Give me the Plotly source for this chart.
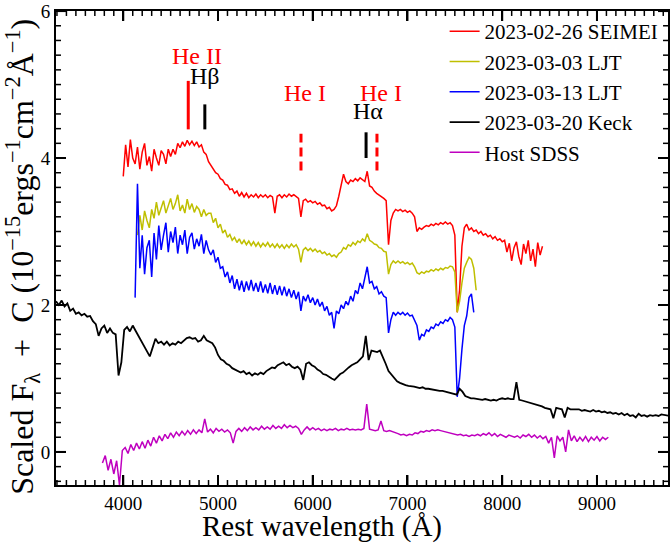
import numpy as np
import plotly.graph_objects as go

# ---------------- data ----------------
red_start, red_step = 4000, 25
red_flux = [3.75,4.18,3.88,4.25,4.0,3.92,4.15,3.85,4.08,4.2,3.9,4.02,3.82,4.12,4.0,3.9,4.1,4.05,3.92,4.12,
            4.02,4.12,4.05,4.2,4.14,4.22,4.16,4.24,4.18,4.23,4.17,4.22,4.15,4.18,4.08,4.05,3.95,3.9,3.85,3.8,
            3.78,3.72,3.7,3.64,3.63,3.57,3.58,3.52,3.55,3.48,3.53,3.47,3.52,3.46,3.5,3.47,3.51,3.46,3.5,3.47,
            3.5,3.46,3.49,3.47,3.25,3.48,3.5,3.46,3.5,3.47,3.51,3.48,3.5,3.47,3.45,3.2,3.42,3.44,3.4,3.42,
            3.39,3.41,3.37,3.39,3.35,3.36,3.31,3.33,3.28,3.3,3.35,3.48,3.62,3.78,3.68,3.65,3.7,3.68,3.72,3.69,
            3.73,3.7,3.68,3.82,3.62,3.6,3.55,3.52,3.5,3.47,3.45,3.42,2.82,3.15,3.25,3.3,3.28,3.3,3.27,3.29,
            3.26,3.28,3.25,3.2,3.0,3.05,3.03,3.06,3.08,3.07,3.1,3.08,3.11,3.09,3.12,3.1,3.13,3.1,3.12,3.08,
            2.95,1.9,2.2,2.8,3.05,3.1,3.02,3.05,3.0,3.02,2.97,3.0,2.95,2.97,2.93,2.95,2.9,2.93,2.88,2.9,
            2.86,2.88,2.72,2.84,2.6,2.78,2.86,2.66,2.55,2.83,2.7,2.88,2.6,2.76,2.52,2.85,2.68,2.8]

yel_start, yel_step = 4150, 25
yel_flux = [2.95,3.22,3.02,3.28,3.15,3.05,3.3,3.18,3.4,3.22,3.32,3.42,3.25,3.35,3.45,3.3,3.38,3.5,3.28,3.36,
            3.25,3.44,3.3,3.38,3.26,3.34,3.3,3.2,3.3,3.22,3.25,3.25,3.12,3.18,3.05,3.1,2.98,3.02,2.92,2.96,
            2.88,2.92,2.85,2.9,2.83,2.88,2.82,2.87,2.81,2.86,2.8,2.85,2.79,2.84,2.8,2.85,2.79,2.83,2.78,2.83,
            2.78,2.82,2.77,2.82,2.78,2.83,2.79,2.82,2.76,2.58,2.75,2.78,2.74,2.77,2.73,2.76,2.72,2.74,2.7,2.72,
            2.68,2.7,2.66,2.68,2.65,2.7,2.72,2.78,2.76,2.82,2.8,2.85,2.82,2.87,2.85,2.9,2.87,2.97,2.88,2.86,
            2.83,2.82,2.78,2.77,2.73,2.72,2.42,2.55,2.6,2.57,2.6,2.57,2.59,2.56,2.58,2.55,2.57,2.52,2.44,2.42,
            2.45,2.43,2.46,2.45,2.48,2.46,2.49,2.47,2.5,2.48,2.51,2.5,2.53,2.52,2.45,1.9,2.05,2.3,2.5,2.58,
            2.65,2.62,2.5,2.2]

blu_start, blu_step = 4125, 25
blu_flux = [2.1,3.65,2.5,2.95,2.42,2.78,2.88,2.38,2.98,2.62,3.08,2.75,2.95,3.12,2.72,3.0,2.85,3.06,2.7,2.95,
            2.82,3.02,2.7,2.92,2.98,2.76,2.9,2.8,2.96,2.7,2.88,2.75,2.68,2.75,2.58,2.65,2.5,2.52,2.38,2.45,
            2.3,2.4,2.22,2.35,2.2,2.33,2.18,2.32,2.2,2.34,2.19,2.3,2.18,2.32,2.17,2.28,2.16,2.3,2.15,2.27,
            2.14,2.26,2.13,2.25,2.12,2.22,2.1,2.2,2.08,2.18,1.92,2.12,2.05,2.14,2.03,2.1,2.0,2.08,1.98,2.04,
            1.92,1.98,1.86,1.9,1.68,1.92,1.88,2.0,1.95,2.05,2.0,2.12,2.05,2.2,2.15,2.3,2.22,2.38,2.52,2.3,
            2.32,2.22,2.25,2.15,2.18,2.12,2.1,1.62,1.8,1.9,1.86,1.9,1.87,1.9,1.86,1.89,1.85,1.86,1.8,1.72,
            1.52,1.6,1.58,1.66,1.64,1.7,1.68,1.74,1.72,1.77,1.75,1.8,1.78,1.83,1.8,1.7,0.75,1.0,1.4,1.72,
            1.85,2.1,2.15,1.9]

blk_start, blk_step = 3290, 30
blk_flux = [2.05,2.0,2.06,1.98,2.02,1.92,1.95,1.88,1.9,1.86,1.88,1.84,1.85,1.78,1.74,1.58,1.68,1.72,1.62,1.68,
            1.62,1.6,1.04,1.22,1.66,1.7,1.64,1.72,1.65,1.58,1.5,1.45,1.38,1.3,1.42,1.54,1.48,1.5,1.46,1.5,
            1.45,1.48,1.46,1.5,1.48,1.52,1.55,1.56,1.54,1.55,1.5,1.52,1.58,1.52,1.5,1.48,1.42,1.32,1.26,1.24,
            1.2,1.18,1.14,1.12,1.1,1.08,1.1,1.06,1.08,1.04,1.07,1.05,1.08,1.06,1.1,1.12,1.15,1.14,1.18,1.2,
            1.22,1.18,1.2,1.16,1.14,1.16,1.12,0.98,1.2,1.22,1.18,1.16,1.12,1.1,1.06,1.05,1.02,1.0,0.98,1.02,
            1.06,1.08,1.12,1.15,1.18,1.2,1.22,1.26,1.3,1.58,1.25,1.38,1.37,1.36,1.38,1.3,1.2,1.1,1.05,1.0,
            0.96,0.94,0.92,0.91,0.9,0.9,0.89,0.88,0.87,0.88,0.86,0.86,0.85,0.84,0.84,0.83,0.83,0.82,0.82,0.81,
            0.8,0.78,0.86,0.82,0.76,0.74,0.73,0.73,0.72,0.72,0.71,0.72,0.71,0.7,0.71,0.7,0.72,0.73,0.72,0.73,
            0.72,0.72,0.95,0.71,0.7,0.69,0.68,0.67,0.66,0.65,0.64,0.62,0.6,0.59,0.58,0.46,0.6,0.59,0.58,0.47,
            0.6,0.58,0.58,0.57,0.58,0.56,0.57,0.56,0.55,0.57,0.55,0.56,0.54,0.55,0.53,0.54,0.52,0.53,0.51,0.53,
            0.5,0.52,0.49,0.5,0.47,0.52,0.49,0.5,0.48,0.5,0.49,0.5,0.49,0.51,0.5,0.5,0.49]

mag_start, mag_step = 3780, 30
mag_flux = [-0.15,-0.05,-0.25,-0.1,-0.3,-0.12,-0.45,0.02,0.06,-0.02,0.1,0.02,0.12,0.04,0.14,0.05,0.16,0.08,0.2,0.12,
            0.22,0.15,0.24,0.18,0.26,0.2,0.27,0.22,0.28,0.23,0.29,0.24,0.3,0.25,0.3,0.26,0.45,0.27,0.31,0.26,
            0.32,0.28,0.31,0.27,0.3,0.26,0.12,0.28,0.32,0.28,0.33,0.29,0.34,0.3,0.33,0.3,0.35,0.31,0.34,0.31,
            0.36,0.32,0.35,0.32,0.37,0.33,0.36,0.33,0.35,0.32,0.24,0.3,0.34,0.3,0.33,0.3,0.32,0.29,0.31,0.29,
            0.31,0.3,0.32,0.29,0.31,0.3,0.32,0.3,0.31,0.3,0.31,0.3,0.32,0.65,0.31,0.3,0.29,0.3,0.42,0.29,
            0.28,0.29,0.28,0.27,0.25,0.23,0.24,0.22,0.24,0.23,0.26,0.25,0.28,0.27,0.29,0.28,0.3,0.29,0.3,0.29,
            0.28,0.27,0.26,0.25,0.24,0.23,0.24,0.22,0.23,0.21,0.23,0.22,0.24,0.22,0.25,0.23,0.26,0.22,0.25,0.21,
            0.24,0.22,0.2,0.23,0.21,0.2,0.22,0.19,0.23,0.21,0.24,0.2,0.23,0.19,0.22,0.18,0.21,0.12,0.2,-0.08,
            0.22,0.15,0.2,0.0,0.3,0.15,0.22,0.14,0.2,0.15,0.21,0.14,0.2,0.16,0.21,0.15,0.2,0.17,0.2]

series_names = ["2023-02-26 SEIMEI", "2023-03-03 LJT", "2023-03-13 LJT", "2023-03-20 Keck", "Host SDSS"]

# line identifications
line_labels = ["He II", "Hβ", "He I", "Hα", "He I"]
line_waves = [4686, 4861, 5876, 6563, 6678]

# ---------------- styling / positions ----------------
colors = ["#ff0000", "#bfbf00", "#0000ff", "#000000", "#bf00bf"]
widths = [1.5, 1.5, 1.5, 1.8, 1.5]
label_colors = ["#ff0000", "#000000", "#ff0000", "#000000", "#ff0000"]
mark_dash = ["solid", "solid", "dash", "solid", "dash"]
mark_y = [(4.39, 5.05), (4.39, 4.73), (3.83, 4.33), (4.0, 4.35), (3.83, 4.33)]
label_pos = [(4780, 5.39), (4865, 5.12), (5922, 4.89), (6588, 4.64), (6725, 4.89)]
x_range = [3290, 9750]
y_range = [-0.45, 6.001]
x_major, x_minor = 1000, 100
y_major, y_minor = 2, 0.2

W, H = 671, 555
M = dict(l=56, r=1, t=8, b=70)
FONT = "Liberation Serif"

starts = [red_start, yel_start, blu_start, blk_start, mag_start]
steps = [red_step, yel_step, blu_step, blk_step, mag_step]
fluxes = [red_flux, yel_flux, blu_flux, blk_flux, mag_flux]

fig = go.Figure()
for name, c, w, s0, ds, fl in zip(series_names, colors, widths, starts, steps, fluxes):
    wave = s0 + ds * np.arange(len(fl))
    fig.add_trace(go.Scatter(x=wave.tolist(), y=fl, mode="lines", line=dict(color=c, width=w),
                             showlegend=True, name=name, hoverinfo="skip"))

# inside tick marks on all four sides, built from the axis tick grid
px_x = (x_range[1] - x_range[0]) / (W - M["l"] - M["r"])   # axis units per pixel
px_y = (y_range[1] - y_range[0]) / (H - M["t"] - M["b"])
tk = {"major": ([], []), "minor": ([], [])}
for v in np.arange(np.ceil(x_range[0] / x_minor) * x_minor, x_range[1] + 1e-6, x_minor).tolist():
    key = "major" if abs(v / x_major - round(v / x_major)) < 1e-6 else "minor"
    L = (10 if key == "major" else 5) * px_y
    xs, ys = tk[key]
    xs += [v, v, None, v, v, None]
    ys += [y_range[0], y_range[0] + L, None, y_range[1], y_range[1] - L, None]
for v in np.arange(np.ceil(y_range[0] / y_minor) * y_minor, y_range[1] + 1e-6, y_minor).tolist():
    key = "major" if abs(v / y_major - round(v / y_major)) < 1e-6 else "minor"
    L = (10 if key == "major" else 5) * px_x
    xs, ys = tk[key]
    xs += [x_range[0], x_range[0] + L, None, x_range[1], x_range[1] - L, None]
    ys += [v, v, None, v, v, None]
for key, (xs, ys) in tk.items():
    fig.add_trace(go.Scatter(x=xs, y=ys, mode="lines",
                             line=dict(color="black", width=2 if key == "major" else 1.5),
                             showlegend=False, hoverinfo="skip", connectgaps=False))

for w, (y0, y1), d, c in zip(line_waves, mark_y, mark_dash, label_colors):
    fig.add_shape(type="line", xref="x", yref="y", x0=w, x1=w, y0=y0, y1=y1,
                  line=dict(color=c, width=3, dash="9px,5px" if d == "dash" else "solid"))
for lab, (lx, ly), c in zip(line_labels, label_pos, label_colors):
    fig.add_annotation(x=lx, y=ly, xref="x", yref="y", text=lab, showarrow=False,
                       font=dict(family=FONT, size=24, color=c), xanchor="center", yanchor="middle")

# axis titles
fig.add_annotation(xref="paper", yref="paper", x=0.435, y=-0.088, text="Rest wavelength (Å)",
                   showarrow=False, font=dict(family=FONT, size=29, color="black"),
                   xanchor="center", yanchor="middle")
fig.add_annotation(xref="paper", yref="paper", x=-0.055, y=0.482,
                   text="Scaled F<sub>λ</sub>\u00a0\u00a0+\u00a0\u00a0C (10<sup>−15</sup>ergs<sup>−1</sup>cm<sup>−2</sup>Å<sup>−1</sup>)",
                   textangle=-90, showarrow=False, font=dict(family=FONT, size=32, color="black"),
                   xanchor="center", yanchor="middle")

tickfont = dict(family=FONT, size=19, color="black")
ax_common = dict(showline=True, linecolor="black", linewidth=2, mirror="allticks",
                 ticks="inside", ticklen=10, tickwidth=2, tickcolor="black",
                 showgrid=False, zeroline=False, tickfont=tickfont, ticklabeloverflow="allow")

fig.update_layout(
    width=W, height=H, margin=M,
    xaxis=dict(range=x_range, tick0=0, dtick=x_major, **ax_common),
    yaxis=dict(range=y_range, tick0=0, dtick=y_major, **ax_common),
    plot_bgcolor="white", paper_bgcolor="white",
    font=dict(family=FONT, color="black"),
    legend=dict(x=0.635, y=1.0, xanchor="left", yanchor="top",
                font=dict(family=FONT, size=21, color="black"),
                bgcolor="rgba(0,0,0,0)", tracegroupgap=0))

fig.write_html("out.html")
